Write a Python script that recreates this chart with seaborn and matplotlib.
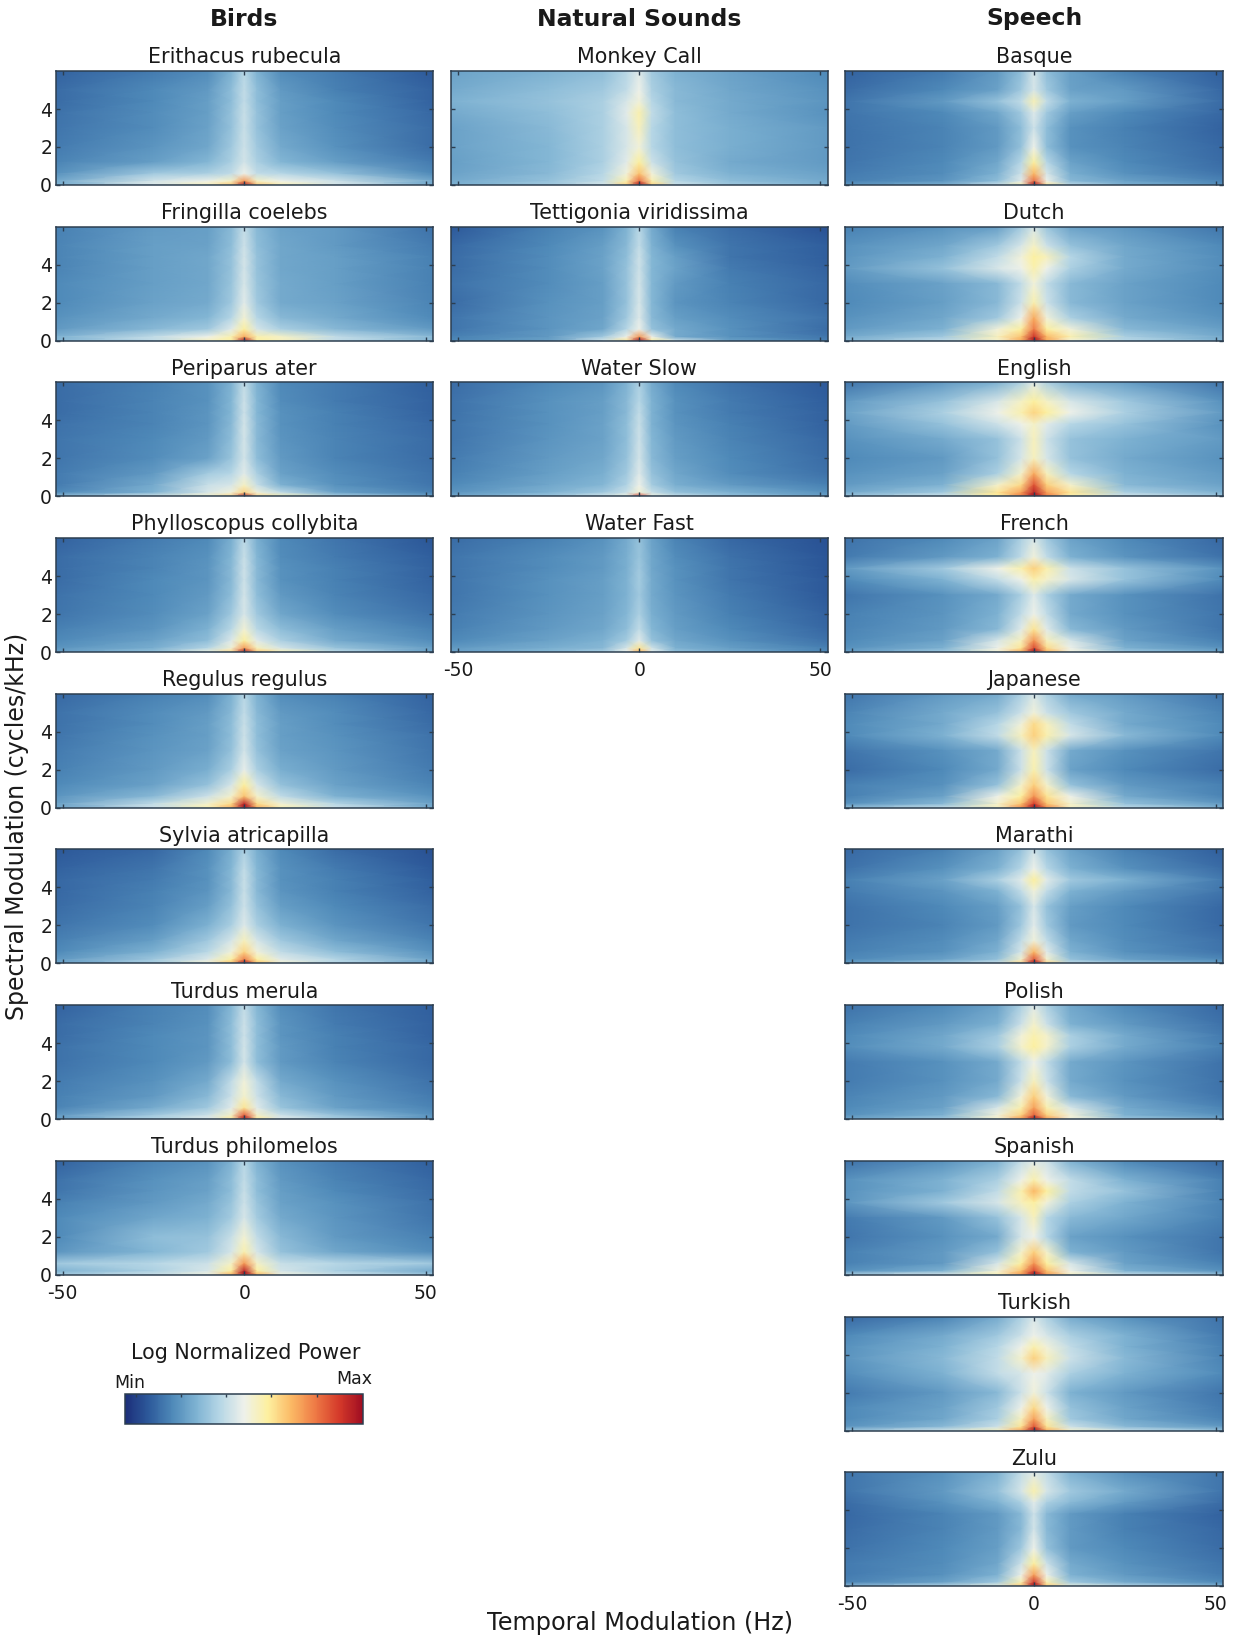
import numpy as np
import matplotlib
matplotlib.use('Agg')
import matplotlib.pyplot as plt
import seaborn as sns

# grid the power values were read on
temporal_hz = [-52, -25, -10, -3.5, 0, 3.5, 10, 25, 52]
spectral_cyc = [6, 5, 4.4, 3.8, 3, 2, 1.2, 0.6, 0.2, 0]

# power per panel, 0 = Min, 100 = Max, rows from 6 cycles/kHz down to 0
erithacus = [[12,17,21,30,40,30,21,17,10],[14,20,24,33,42,33,24,18,12],[14,20,25,33,42,33,25,20,12],[15,21,25,34,43,34,25,20,13],[16,21,26,34,43,34,26,21,14],
             [17,23,27,36,44,36,28,22,14],[19,25,31,38,45,38,31,25,17],[22,36,38,42,50,42,40,34,20],[28,45,50,55,75,55,50,44,28],[30,47,57,68,100,68,58,46,28]]
fringilla = [[18,24,25,32,42,32,26,24,15],[19,25,26,33,44,33,27,24,17],[19,25,27,34,45,34,27,25,18],[19,25,27,34,45,34,27,25,18],[20,25,27,35,46,35,28,25,18],
             [20,26,28,36,48,36,28,26,19],[22,28,31,40,53,40,32,28,20],[24,32,36,48,60,46,38,32,24],[30,42,50,58,72,58,55,42,32],[32,42,56,60,100,60,56,42,32]]
periparus = [[14,18,22,30,42,30,20,17,11],[14,19,22,31,44,31,21,17,12],[14,19,23,31,44,31,22,18,12],[15,19,23,32,45,32,22,18,13],[16,20,24,33,45,32,23,19,14],
             [16,21,26,35,45,33,24,19,14],[17,24,37,40,48,38,26,21,15],[17,28,43,46,55,43,30,22,16],[20,30,46,52,65,52,42,26,18],[35,48,55,65,100,65,58,40,26]]
phylloscopus = [[12,17,20,29,41,29,20,16,9],[14,19,22,31,43,31,21,17,11],[14,19,23,32,44,32,22,18,12],[14,20,23,32,44,32,22,18,12],[15,20,24,33,45,33,24,19,13],
                [16,21,26,36,46,36,27,21,15],[18,23,30,41,53,41,33,25,18],[20,26,33,47,60,48,38,28,21],[23,29,40,53,75,56,46,35,25],[26,34,52,65,100,68,58,42,26]]
regulus = [[13,18,21,30,40,30,21,18,12],[15,21,24,32,42,32,24,21,13],[15,21,25,33,43,33,25,21,14],[16,22,25,33,44,33,25,22,15],[17,23,26,34,45,34,26,23,16],
           [18,24,29,38,49,38,29,24,17],[20,26,34,46,60,46,34,26,19],[23,32,44,54,68,54,42,30,22],[26,42,54,64,95,64,53,40,26],[28,44,58,72,100,72,58,44,28]]
sylvia = [[10,13,20,29,38,29,20,14,8],[12,16,22,31,42,31,22,17,10],[13,17,22,32,43,32,22,18,11],[13,18,23,32,43,32,23,18,12],[14,19,25,34,44,34,25,20,14],
          [16,21,30,38,47,38,30,23,16],[18,25,36,46,56,46,36,27,19],[20,30,41,52,65,52,42,33,22],[24,36,47,60,80,60,48,40,26],[27,38,54,70,100,70,54,40,27]]
merula = [[12,18,21,31,42,31,21,16,11],[14,19,22,33,44,33,23,17,12],[14,20,23,33,44,33,23,18,12],[15,20,23,33,45,33,24,18,13],[15,20,24,33,45,33,24,19,13],
          [17,22,28,42,52,42,28,22,15],[18,24,32,44,54,44,32,24,17],[19,28,36,48,62,48,35,26,19],[24,36,44,55,85,55,44,34,22],[26,40,48,62,100,62,48,38,24]]
philomelos = [[12,19,22,30,40,30,22,17,11],[15,22,25,33,42,33,24,19,13],[16,23,26,33,43,33,25,20,14],[18,24,28,35,44,35,26,22,15],[20,27,30,37,46,37,28,23,16],
              [20,33,34,43,53,42,32,24,18],[23,31,36,46,58,46,34,27,21],[36,40,44,55,75,55,43,40,36],[30,38,46,60,95,60,45,38,28],[38,44,52,72,100,72,52,44,36]]

monkey = [[26,30,33,40,47,36,30,26,20],[28,33,36,42,50,38,32,27,22],[30,34,38,46,52,40,32,28,23],[28,33,38,48,58,42,33,28,22],[26,32,38,46,56,40,33,29,24],
          [26,31,38,46,52,40,33,29,24],[25,31,38,48,60,44,34,28,24],[26,32,40,52,68,52,36,30,26],[28,34,42,58,82,58,40,33,28],[30,36,46,66,100,66,44,36,30]]
tettigonia = [[10,18,22,30,40,28,18,14,8],[13,20,25,32,42,30,22,16,11],[14,21,26,33,44,31,25,16,11],[14,21,26,34,44,31,26,17,12],[15,21,25,34,45,31,24,18,13],
              [14,22,25,34,46,31,23,19,13],[16,23,26,36,47,32,25,21,15],[16,23,27,40,50,34,28,22,14],[18,24,36,50,75,50,28,22,16],[20,26,46,62,100,60,46,26,18]]
water_slow = [[14,20,23,30,38,28,20,15,10],[15,22,25,32,40,30,22,17,11],[15,22,25,32,42,30,22,17,12],[16,22,26,33,43,30,23,18,12],[16,23,26,33,44,31,24,19,13],
              [17,24,27,34,45,32,25,20,14],[18,25,29,36,47,34,27,21,15],[20,27,31,39,50,37,29,24,18],[23,30,36,43,53,43,34,30,22],[28,36,46,52,92,52,44,34,26]]
water_fast = [[14,18,22,28,34,26,19,13,8],[16,21,24,29,35,27,21,15,9],[16,21,24,29,36,27,22,16,9],[16,22,25,30,37,28,22,16,10],[16,22,25,30,36,28,23,17,10],
              [17,23,26,31,38,29,24,18,12],[18,24,27,33,42,31,25,20,13],[20,26,30,37,48,34,27,22,15],[24,29,32,46,62,45,30,25,18],[26,32,38,50,72,48,34,28,20]]

basque = [[12,17,24,33,45,33,25,18,11],[14,20,26,36,46,36,26,24,13],[16,24,34,42,57,42,30,25,14],[16,20,27,36,47,36,25,20,13],[15,19,24,33,44,33,22,18,12],
          [15,19,24,34,50,33,22,19,13],[16,20,27,40,60,40,26,20,14],[17,21,30,44,70,46,29,22,16],[18,23,33,48,82,50,32,26,19],[24,30,44,58,100,62,42,30,22]]
dutch = [[18,22,25,36,46,35,26,23,16],[22,27,36,46,55,44,34,27,20],[23,30,42,52,60,56,40,28,21],[24,34,46,50,58,50,38,28,21],[21,26,32,42,52,42,32,26,20],
         [20,25,32,44,58,44,32,26,20],[22,27,36,50,72,52,38,28,22],[24,30,52,60,80,60,52,32,25],[28,36,56,68,92,70,58,38,28],[32,42,54,72,100,72,52,40,30]]
english = [[16,24,30,38,48,38,30,25,16],[24,34,46,55,60,55,46,36,22],[26,38,50,58,65,60,50,38,24],[24,34,44,50,55,48,40,34,22],[22,28,34,44,56,44,34,30,24],
           [20,24,34,46,56,46,34,28,22],[22,26,38,54,72,56,40,30,24],[24,30,54,64,86,66,54,32,26],[28,36,62,74,95,74,62,38,30],[36,46,60,80,100,80,58,46,36]]
french = [[15,20,26,38,46,36,26,20,13],[17,24,30,42,52,42,30,23,15],[24,36,50,58,66,58,44,34,22],[20,30,42,50,58,54,46,34,20],[16,22,28,38,47,38,28,22,15],
          [18,23,30,42,50,42,28,22,16],[19,24,32,48,62,48,32,24,16],[20,26,46,56,76,56,46,26,18],[22,30,50,62,88,64,50,30,22],[26,36,54,74,100,72,52,36,28]]
japanese = [[16,24,28,38,46,38,28,24,16],[19,28,34,44,52,44,36,28,19],[20,28,40,52,64,56,42,28,20],[20,30,42,56,66,58,46,32,20],[16,22,28,44,56,44,28,22,16],
            [14,20,28,44,58,44,26,20,14],[18,22,34,54,66,54,34,24,18],[18,26,50,60,76,62,50,28,19],[22,32,54,68,90,68,54,34,24],[34,44,56,78,100,78,56,42,30]]
marathi = [[13,18,26,34,44,34,26,18,11],[15,22,30,40,50,40,30,22,14],[18,26,38,48,60,48,36,30,17],[17,23,30,42,52,42,30,24,16],[15,20,25,34,46,34,25,20,13],
           [15,19,24,36,48,36,24,20,13],[17,21,27,42,52,42,27,21,15],[18,22,30,46,70,48,30,22,16],[20,26,34,54,86,54,34,26,20],[26,36,46,66,100,66,44,36,26]]
polish = [[15,20,26,38,47,38,27,20,13],[18,24,30,44,54,44,30,24,15],[20,27,36,52,58,54,38,28,17],[21,28,38,54,60,54,38,28,18],[17,22,28,42,50,42,28,23,15],
          [17,22,28,44,56,44,28,22,15],[19,24,32,52,66,52,32,24,16],[20,26,46,58,74,58,46,28,19],[22,30,52,66,84,66,52,30,22],[28,36,54,76,100,76,52,36,28]]
spanish = [[15,22,30,42,48,44,30,20,13],[22,30,38,50,58,50,42,30,18],[22,30,42,58,70,60,42,34,18],[23,36,46,56,60,52,38,30,19],[17,24,34,46,56,40,32,27,18],
           [16,22,28,46,50,40,26,22,16],[18,24,34,54,66,54,30,24,16],[18,24,46,60,76,60,46,26,18],[22,30,52,68,88,68,50,30,22],[40,48,58,76,100,76,56,44,36]]
turkish = [[13,19,28,38,46,38,28,22,15],[20,28,36,44,50,46,38,30,17],[22,30,40,50,58,52,42,30,18],[23,32,42,54,66,56,44,32,19],[21,30,42,46,50,48,38,30,20],
           [17,24,32,44,52,44,30,24,16],[20,26,36,50,64,50,34,26,17],[20,27,38,56,74,56,36,27,19],[23,32,44,62,86,62,44,32,24],[36,46,56,74,100,72,54,44,34]]
zulu = [[16,22,30,42,48,42,30,22,16],[16,24,34,46,58,46,36,28,16],[14,22,30,38,48,38,32,24,14],[13,19,24,32,44,32,24,18,12],[14,19,24,32,45,32,24,18,13],
        [15,20,25,36,50,34,24,20,14],[17,21,27,44,60,44,28,22,16],[17,22,30,50,74,50,30,24,17],[19,26,36,58,92,58,36,28,20],[34,42,52,68,100,68,52,42,32]]

headers = ['Birds', 'Natural Sounds', 'Speech']
birds = [('Erithacus rubecula', erithacus), ('Fringilla coelebs', fringilla), ('Periparus ater', periparus),
         ('Phylloscopus collybita', phylloscopus), ('Regulus regulus', regulus), ('Sylvia atricapilla', sylvia),
         ('Turdus merula', merula), ('Turdus philomelos', philomelos)]
natural = [('Monkey Call', monkey), ('Tettigonia viridissima', tettigonia), ('Water Slow', water_slow), ('Water Fast', water_fast)]
speech = [('Basque', basque), ('Dutch', dutch), ('English', english), ('French', french), ('Japanese', japanese),
          ('Marathi', marathi), ('Polish', polish), ('Spanish', spanish), ('Turkish', turkish), ('Zulu', zulu)]

x_ticks = [-50, 0, 50]
y_ticks = [0, 2, 4]

W, H = 1239, 1637
sns.set_theme(style='ticks')
plt.rcParams['font.family'] = ['DejaVu Sans']
TEXT = '#1a1a1a'
EDGE = '#2c3e50'

cmap = sns.blend_palette(['#1c2f7a', '#2d5a9b', '#4f8ab9', '#7fb3d3', '#b7d7e6', '#eef1ea',
                          '#fdf0a0', '#fbb965', '#ee7a45', '#d53a2a', '#a00d22'], as_cmap=True)

fig = plt.figure(figsize=(W / 100, H / 100), dpi=100)


def px_axes(left, top, right, bottom):
    return fig.add_axes([left / W, 1 - bottom / H, (right - left) / W, (bottom - top) / H])


def draw_panel(ax, title, values, show_y, show_x):
    sns.heatmap(np.array(values, dtype=float), ax=ax, cmap=cmap, vmin=0, vmax=100, cbar=False,
                xticklabels=False, yticklabels=False, shading='gouraud')
    # columns and rows are not evenly spaced, the scale puts them in Hz and cycles/kHz
    ix = np.arange(len(temporal_hz))
    iy = np.arange(len(spectral_cyc))
    ax.set_xscale('function', functions=(lambda i: np.interp(i, ix, temporal_hz),
                                         lambda v: np.interp(v, temporal_hz, ix)))
    ax.set_yscale('function', functions=(lambda i: np.interp(i, iy, spectral_cyc),
                                         lambda v: np.interp(v, spectral_cyc[::-1], iy[::-1])))
    ax.set_xlim(0, len(ix) - 1)
    # limits stay ascending, spectral_cyc runs downward so the scale already puts row 0 on top
    ax.set_ylim(0, len(iy) - 1)
    ax.set_xticks(np.interp(x_ticks, temporal_hz, ix))
    ax.set_yticks(np.interp(y_ticks, spectral_cyc[::-1], iy[::-1]))
    ax.set_xticklabels([str(t) for t in x_ticks])
    ax.set_yticklabels([str(t) for t in y_ticks])
    ax.minorticks_off()
    # the ticks style puts ticks under the mesh, these point inward so they must sit on top
    ax.set_axisbelow(False)
    ax.tick_params(direction='in', top=True, right=True, bottom=True, left=True, length=3, width=1,
                   color=EDGE, labelcolor=TEXT, labelsize=13.5, labelbottom=show_x, labelleft=show_y)
    ax.tick_params(axis='x', pad=6.5)
    ax.tick_params(axis='y', pad=2.5)
    for s in ax.spines.values():
        s.set_visible(True)
        s.set_color(EDGE)
        s.set_linewidth(1.1)
    ax.set_title(title, fontsize=14.9, color=TEXT, pad=5.5)


col_left = [55.5, 451, 845]
col_right = [433, 827.5, 1223]
row_top = 71
row_pitch = 155.7
row_h = 114

for c, panels in enumerate([birds, natural, speech]):
    for r, (title, values) in enumerate(panels):
        top = row_top + r * row_pitch
        ax = px_axes(col_left[c], top, col_right[c], top + row_h)
        draw_panel(ax, title, values, c == 0, r == len(panels) - 1)
    fig.text((col_left[c] + col_right[c]) / 2 / W, 1 - 19 / H, headers[c], ha='center', va='center',
             fontsize=16.9, fontweight='bold', color=TEXT)

fig.text(640 / W, 1 - 1623 / H, 'Temporal Modulation (Hz)', ha='center', va='center', fontsize=17.2, color=TEXT)
fig.text(17 / W, 1 - 826 / H, 'Spectral Modulation (cycles/kHz)', ha='center', va='center', rotation=90,
         fontsize=17, color=TEXT)

# colour key
cax = px_axes(125, 1394, 363, 1424)
sm = plt.cm.ScalarMappable(cmap=cmap, norm=plt.Normalize(0, 100))
cb = fig.colorbar(sm, cax=cax, orientation='horizontal')
cb.set_ticks([4.5, 23.7, 42.4, 61.5, 80.6])
cb.set_ticklabels([])
cax.set_axisbelow(False)
cax.tick_params(direction='in', top=True, bottom=False, length=2, width=1, color=EDGE)
cb.outline.set_edgecolor(EDGE)
cb.outline.set_linewidth(1.1)
fig.text(246 / W, 1 - 1353 / H, 'Log Normalized Power', ha='center', va='center', fontsize=14.9, color=TEXT)
fig.text(130 / W, 1 - 1383 / H, 'Min', ha='center', va='center', fontsize=12.5, color=TEXT)
fig.text(354 / W, 1 - 1379 / H, 'Max', ha='center', va='center', fontsize=12.5, color=TEXT)

fig.savefig('out.png', dpi=100)
